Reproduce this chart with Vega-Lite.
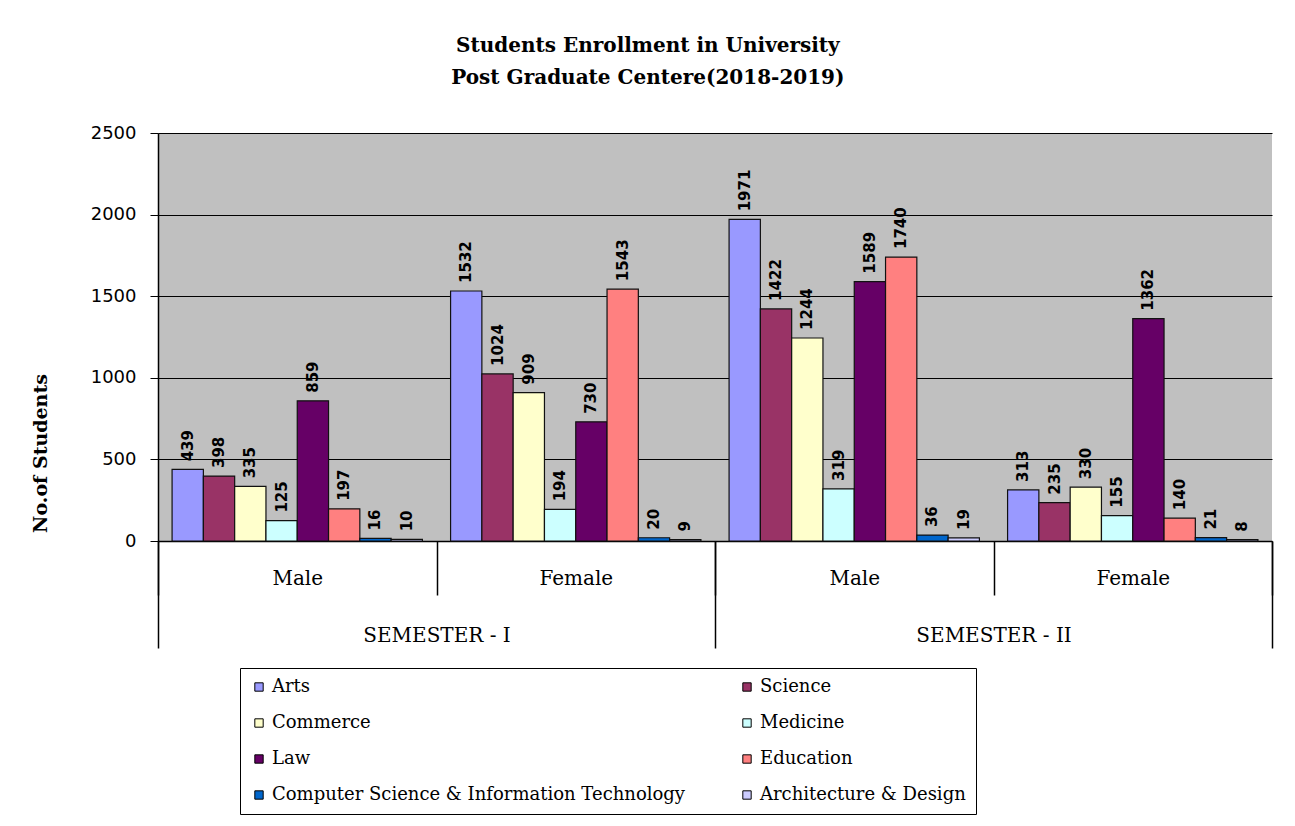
{
  "$schema": "https://vega.github.io/schema/vega-lite/v6.json",
  "width": 1114,
  "height": 408,
  "autosize": {"type": "none"},
  "padding": {"left": 158, "top": 133, "right": 23, "bottom": 285},
  "background": "white",
  "title": {
    "text": ["Students Enrollment in University", "Post Graduate Centere(2018-2019)"],
    "font": "DejaVu Serif",
    "fontSize": 20,
    "fontWeight": "bold",
    "lineHeight": 32,
    "anchor": "middle",
    "frame": "bounds",
    "offset": 36,
    "dx": -4,
    "color": "#000000"
  },
  "config": {
    "view": {"fill": "#C0C0C0", "stroke": null},
    "axis": {"domainColor": "#000000", "tickColor": "#000000", "labelColor": "#000000", "titleColor": "#000000"}
  },
  "data": {
    "values": [
      {"semester": "SEMESTER - I", "gender": "Male", "group": "SEMESTER - I|Male", "subject": "Arts", "value": 439},
      {"semester": "SEMESTER - I", "gender": "Male", "group": "SEMESTER - I|Male", "subject": "Science", "value": 398},
      {"semester": "SEMESTER - I", "gender": "Male", "group": "SEMESTER - I|Male", "subject": "Commerce", "value": 335},
      {"semester": "SEMESTER - I", "gender": "Male", "group": "SEMESTER - I|Male", "subject": "Medicine", "value": 125},
      {"semester": "SEMESTER - I", "gender": "Male", "group": "SEMESTER - I|Male", "subject": "Law", "value": 859},
      {"semester": "SEMESTER - I", "gender": "Male", "group": "SEMESTER - I|Male", "subject": "Education", "value": 197},
      {"semester": "SEMESTER - I", "gender": "Male", "group": "SEMESTER - I|Male", "subject": "Computer Science & Information Technology", "value": 16},
      {"semester": "SEMESTER - I", "gender": "Male", "group": "SEMESTER - I|Male", "subject": "Architecture & Design", "value": 10},
      {"semester": "SEMESTER - I", "gender": "Female", "group": "SEMESTER - I|Female", "subject": "Arts", "value": 1532},
      {"semester": "SEMESTER - I", "gender": "Female", "group": "SEMESTER - I|Female", "subject": "Science", "value": 1024},
      {"semester": "SEMESTER - I", "gender": "Female", "group": "SEMESTER - I|Female", "subject": "Commerce", "value": 909},
      {"semester": "SEMESTER - I", "gender": "Female", "group": "SEMESTER - I|Female", "subject": "Medicine", "value": 194},
      {"semester": "SEMESTER - I", "gender": "Female", "group": "SEMESTER - I|Female", "subject": "Law", "value": 730},
      {"semester": "SEMESTER - I", "gender": "Female", "group": "SEMESTER - I|Female", "subject": "Education", "value": 1543},
      {"semester": "SEMESTER - I", "gender": "Female", "group": "SEMESTER - I|Female", "subject": "Computer Science & Information Technology", "value": 20},
      {"semester": "SEMESTER - I", "gender": "Female", "group": "SEMESTER - I|Female", "subject": "Architecture & Design", "value": 9},
      {"semester": "SEMESTER - II", "gender": "Male", "group": "SEMESTER - II|Male", "subject": "Arts", "value": 1971},
      {"semester": "SEMESTER - II", "gender": "Male", "group": "SEMESTER - II|Male", "subject": "Science", "value": 1422},
      {"semester": "SEMESTER - II", "gender": "Male", "group": "SEMESTER - II|Male", "subject": "Commerce", "value": 1244},
      {"semester": "SEMESTER - II", "gender": "Male", "group": "SEMESTER - II|Male", "subject": "Medicine", "value": 319},
      {"semester": "SEMESTER - II", "gender": "Male", "group": "SEMESTER - II|Male", "subject": "Law", "value": 1589},
      {"semester": "SEMESTER - II", "gender": "Male", "group": "SEMESTER - II|Male", "subject": "Education", "value": 1740},
      {"semester": "SEMESTER - II", "gender": "Male", "group": "SEMESTER - II|Male", "subject": "Computer Science & Information Technology", "value": 36},
      {"semester": "SEMESTER - II", "gender": "Male", "group": "SEMESTER - II|Male", "subject": "Architecture & Design", "value": 19},
      {"semester": "SEMESTER - II", "gender": "Female", "group": "SEMESTER - II|Female", "subject": "Arts", "value": 313},
      {"semester": "SEMESTER - II", "gender": "Female", "group": "SEMESTER - II|Female", "subject": "Science", "value": 235},
      {"semester": "SEMESTER - II", "gender": "Female", "group": "SEMESTER - II|Female", "subject": "Commerce", "value": 330},
      {"semester": "SEMESTER - II", "gender": "Female", "group": "SEMESTER - II|Female", "subject": "Medicine", "value": 155},
      {"semester": "SEMESTER - II", "gender": "Female", "group": "SEMESTER - II|Female", "subject": "Law", "value": 1362},
      {"semester": "SEMESTER - II", "gender": "Female", "group": "SEMESTER - II|Female", "subject": "Education", "value": 140},
      {"semester": "SEMESTER - II", "gender": "Female", "group": "SEMESTER - II|Female", "subject": "Computer Science & Information Technology", "value": 21},
      {"semester": "SEMESTER - II", "gender": "Female", "group": "SEMESTER - II|Female", "subject": "Architecture & Design", "value": 8}
    ]
  },
  "layer": [
    {
      "encoding": {
        "x": {
          "field": "group",
          "type": "nominal",
          "sort": null,
          "scale": {"type": "band", "paddingInner": 0, "paddingOuter": 0},
          "axis": {
            "orient": "bottom",
            "title": null,
            "labelAngle": 0,
            "labelExpr": "split(datum.label, '|')[1]",
            "tickBand": "extent",
            "tickSize": 54,
            "tickWidth": 1.5,
            "domainWidth": 1.5,
            "labelFont": "DejaVu Serif",
            "labelFontSize": 20,
            "labelBaseline": "middle",
            "labelPadding": -17
          }
        },
        "xOffset": {
          "field": "subject",
          "type": "nominal",
          "sort": ["Arts", "Science", "Commerce", "Medicine", "Law", "Education", "Computer Science & Information Technology", "Architecture & Design"],
          "scale": {"paddingInner": 0, "paddingOuter": 0.45}
        },
        "y": {
          "field": "value",
          "type": "quantitative",
          "scale": {"domain": [0, 2500], "nice": false},
          "axis": {
            "values": [0, 500, 1000, 1500, 2000, 2500],
            "format": "d",
            "title": "No.of Students",
            "titleFont": "DejaVu Serif",
            "titleFontSize": 19,
            "titleFontWeight": "bold",
            "titleAngle": 270,
            "titleAlign": "center",
            "titleBaseline": "middle",
            "titleX": -118,
            "titleY": 320,
            "grid": true,
            "gridColor": "#000000",
            "gridWidth": 1.2,
            "gridOpacity": 1,
            "tickSize": 8,
            "domainWidth": 1.5,
            "labelFont": "DejaVu Sans",
            "labelFontSize": 18,
            "labelPadding": 14
          }
        }
      },
      "layer": [
        {
          "mark": {"type": "bar", "stroke": "#111111", "strokeWidth": 1.2},
          "encoding": {
            "color": {
              "field": "subject",
              "type": "nominal",
              "scale": {
                "domain": ["Arts", "Science", "Commerce", "Medicine", "Law", "Education", "Computer Science & Information Technology", "Architecture & Design"],
                "range": ["#9999FF", "#993366", "#FFFFCC", "#CCFFFF", "#660066", "#FF8080", "#0066CC", "#CCCCFF"]
              },
              "legend": {
                "title": null,
                "orient": "none",
                "legendX": 82,
                "legendY": 535,
                "columns": 2,
                "direction": "horizontal",
                "strokeColor": "#000000",
                "fillColor": "#FFFFFF",
                "padding": 10,
                "rowPadding": 18,
                "columnPadding": 52,
                "symbolType": "square",
                "symbolSize": 70,
                "symbolStrokeColor": "#000000",
                "symbolStrokeWidth": 1,
                "labelFont": "DejaVu Serif",
                "labelFontSize": 18,
                "labelColor": "#000000",
                "labelOffset": 4,
                "labelLimit": 600
              }
            }
          }
        },
        {
          "mark": {"type": "text", "angle": 270, "align": "left", "baseline": "middle", "dx": 8, "font": "DejaVu Sans", "fontSize": 15, "fontWeight": "bold", "color": "#000000"},
          "encoding": {
            "text": {"field": "value", "type": "quantitative"}
          }
        }
      ]
    },
    {
      "mark": {"type": "point", "opacity": 0},
      "encoding": {
        "x": {
          "field": "semester",
          "type": "nominal",
          "sort": null,
          "scale": {"type": "band", "paddingInner": 0, "paddingOuter": 0},
          "axis": {
            "orient": "bottom",
            "title": null,
            "labelAngle": 0,
            "domain": false,
            "tickBand": "extent",
            "tickSize": 107,
            "tickWidth": 1.5,
            "labelFont": "DejaVu Serif",
            "labelFontSize": 20,
            "labelBaseline": "middle",
            "labelPadding": -13
          }
        }
      }
    }
  ],
  "resolve": {"scale": {"x": "independent"}, "axis": {"x": "independent"}}
}
